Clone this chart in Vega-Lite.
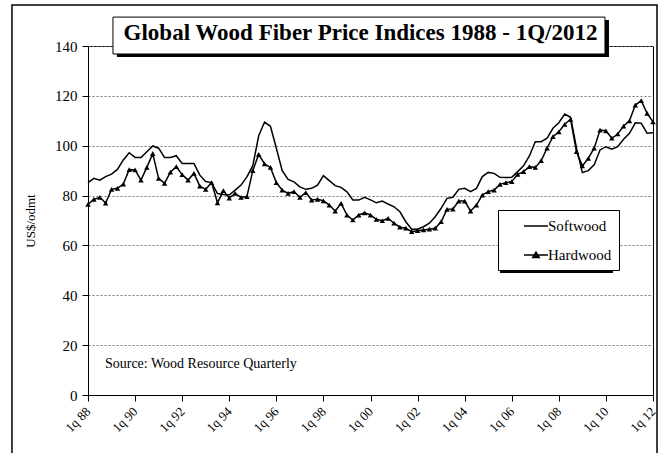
{
  "$schema": "https://vega.github.io/schema/vega-lite/v6.json",
  "width": 565,
  "height": 349,
  "autosize": {"type": "none"},
  "padding": {"left": 88, "top": 46, "right": 6, "bottom": 58},
  "background": "white",
  "title": {"text": "Global Wood Fiber Price Indices 1988 - 1Q/2012", "font": "Liberation Serif", "fontSize": 23, "fontWeight": "bold", "color": "black", "anchor": "middle", "frame": "group", "dx": -10, "dy": 61, "offset": 2, "baseline": "alphabetic"},
  "config": {
    "view": {"stroke": "black", "strokeWidth": 1},
    "font": "Liberation Serif",
    "axis": {"labelFont": "Liberation Serif", "titleFont": "Liberation Serif"},
    "legend": {"labelFont": "Liberation Serif"}
  },
  "datasets": {
    "prices": [
      {"t": 1988, "Softwood": 85.2, "Hardwood": 76.5},
      {"t": 1988.25, "Softwood": 86.9, "Hardwood": 78.5},
      {"t": 1988.5, "Softwood": 86.2, "Hardwood": 79.3},
      {"t": 1988.75, "Softwood": 87.6, "Hardwood": 77.0},
      {"t": 1989, "Softwood": 88.6, "Hardwood": 82.5},
      {"t": 1989.25, "Softwood": 90.5, "Hardwood": 82.9},
      {"t": 1989.5, "Softwood": 94.3, "Hardwood": 84.6},
      {"t": 1989.75, "Softwood": 97.2, "Hardwood": 90.4},
      {"t": 1990, "Softwood": 95.3, "Hardwood": 90.3},
      {"t": 1990.25, "Softwood": 95.3, "Hardwood": 86.2},
      {"t": 1990.5, "Softwood": 97.6, "Hardwood": 91.3},
      {"t": 1990.75, "Softwood": 99.9, "Hardwood": 96.8},
      {"t": 1991, "Softwood": 99.0, "Hardwood": 86.9},
      {"t": 1991.25, "Softwood": 95.3, "Hardwood": 84.9},
      {"t": 1991.5, "Softwood": 95.3, "Hardwood": 89.4},
      {"t": 1991.75, "Softwood": 96.0, "Hardwood": 91.6},
      {"t": 1992, "Softwood": 92.9, "Hardwood": 88.4},
      {"t": 1992.25, "Softwood": 92.9, "Hardwood": 86.2},
      {"t": 1992.5, "Softwood": 92.9, "Hardwood": 88.9},
      {"t": 1992.75, "Softwood": 88.2, "Hardwood": 83.8},
      {"t": 1993, "Softwood": 85.6, "Hardwood": 82.5},
      {"t": 1993.25, "Softwood": 85.2, "Hardwood": 85.2},
      {"t": 1993.5, "Softwood": 80.8, "Hardwood": 77.1},
      {"t": 1993.75, "Softwood": 80.4, "Hardwood": 82.0},
      {"t": 1994, "Softwood": 80.2, "Hardwood": 79.0},
      {"t": 1994.25, "Softwood": 82.2, "Hardwood": 80.9},
      {"t": 1994.5, "Softwood": 84.2, "Hardwood": 79.3},
      {"t": 1994.75, "Softwood": 87.5, "Hardwood": 79.6},
      {"t": 1995, "Softwood": 92.0, "Hardwood": 90.0},
      {"t": 1995.25, "Softwood": 104.0, "Hardwood": 96.5},
      {"t": 1995.5, "Softwood": 109.5, "Hardwood": 92.7},
      {"t": 1995.75, "Softwood": 107.8, "Hardwood": 91.3},
      {"t": 1996, "Softwood": 99.0, "Hardwood": 85.2},
      {"t": 1996.25, "Softwood": 90.0, "Hardwood": 82.2},
      {"t": 1996.5, "Softwood": 86.5, "Hardwood": 80.9},
      {"t": 1996.75, "Softwood": 85.5, "Hardwood": 81.6},
      {"t": 1997, "Softwood": 83.5, "Hardwood": 79.3},
      {"t": 1997.25, "Softwood": 82.5, "Hardwood": 81.2},
      {"t": 1997.5, "Softwood": 82.9, "Hardwood": 78.2},
      {"t": 1997.75, "Softwood": 84.2, "Hardwood": 78.5},
      {"t": 1998, "Softwood": 88.0, "Hardwood": 77.9},
      {"t": 1998.25, "Softwood": 86.0, "Hardwood": 76.2},
      {"t": 1998.5, "Softwood": 84.0, "Hardwood": 73.8},
      {"t": 1998.75, "Softwood": 83.3, "Hardwood": 76.9},
      {"t": 1999, "Softwood": 81.5, "Hardwood": 72.2},
      {"t": 1999.25, "Softwood": 78.2, "Hardwood": 70.2},
      {"t": 1999.5, "Softwood": 78.2, "Hardwood": 72.2},
      {"t": 1999.75, "Softwood": 79.3, "Hardwood": 73.1},
      {"t": 2000, "Softwood": 78.3, "Hardwood": 72.2},
      {"t": 2000.25, "Softwood": 77.1, "Hardwood": 70.5},
      {"t": 2000.5, "Softwood": 77.8, "Hardwood": 69.9},
      {"t": 2000.75, "Softwood": 76.6, "Hardwood": 70.9},
      {"t": 2001, "Softwood": 75.5, "Hardwood": 68.9},
      {"t": 2001.25, "Softwood": 73.5, "Hardwood": 67.3},
      {"t": 2001.5, "Softwood": 69.5, "Hardwood": 66.9},
      {"t": 2001.75, "Softwood": 66.5, "Hardwood": 65.5},
      {"t": 2002, "Softwood": 66.5, "Hardwood": 65.9},
      {"t": 2002.25, "Softwood": 67.5, "Hardwood": 66.2},
      {"t": 2002.5, "Softwood": 68.9, "Hardwood": 66.5},
      {"t": 2002.75, "Softwood": 71.5, "Hardwood": 66.9},
      {"t": 2003, "Softwood": 74.9, "Hardwood": 69.5},
      {"t": 2003.25, "Softwood": 78.9, "Hardwood": 74.5},
      {"t": 2003.5, "Softwood": 79.3, "Hardwood": 74.6},
      {"t": 2003.75, "Softwood": 82.5, "Hardwood": 77.8},
      {"t": 2004, "Softwood": 82.9, "Hardwood": 77.8},
      {"t": 2004.25, "Softwood": 81.6, "Hardwood": 73.8},
      {"t": 2004.5, "Softwood": 82.9, "Hardwood": 76.2},
      {"t": 2004.75, "Softwood": 87.6, "Hardwood": 80.2},
      {"t": 2005, "Softwood": 89.3, "Hardwood": 81.6},
      {"t": 2005.25, "Softwood": 88.9, "Hardwood": 82.2},
      {"t": 2005.5, "Softwood": 87.3, "Hardwood": 84.5},
      {"t": 2005.75, "Softwood": 87.2, "Hardwood": 85.2},
      {"t": 2006, "Softwood": 87.3, "Hardwood": 85.6},
      {"t": 2006.25, "Softwood": 89.6, "Hardwood": 88.5},
      {"t": 2006.5, "Softwood": 91.9, "Hardwood": 89.6},
      {"t": 2006.75, "Softwood": 95.9, "Hardwood": 91.6},
      {"t": 2007, "Softwood": 101.6, "Hardwood": 91.3},
      {"t": 2007.25, "Softwood": 101.6, "Hardwood": 94.0},
      {"t": 2007.5, "Softwood": 103.0, "Hardwood": 99.0},
      {"t": 2007.75, "Softwood": 107.0, "Hardwood": 103.6},
      {"t": 2008, "Softwood": 109.2, "Hardwood": 105.6},
      {"t": 2008.25, "Softwood": 112.7, "Hardwood": 108.6},
      {"t": 2008.5, "Softwood": 111.4, "Hardwood": 110.6},
      {"t": 2008.75, "Softwood": 99.0, "Hardwood": 97.6},
      {"t": 2009, "Softwood": 89.2, "Hardwood": 91.9},
      {"t": 2009.25, "Softwood": 90.0, "Hardwood": 94.9},
      {"t": 2009.5, "Softwood": 92.3, "Hardwood": 99.0},
      {"t": 2009.75, "Softwood": 98.3, "Hardwood": 106.3},
      {"t": 2010, "Softwood": 99.6, "Hardwood": 106.0},
      {"t": 2010.25, "Softwood": 98.6, "Hardwood": 103.0},
      {"t": 2010.5, "Softwood": 99.6, "Hardwood": 104.7},
      {"t": 2010.75, "Softwood": 102.6, "Hardwood": 107.9},
      {"t": 2011, "Softwood": 105.0, "Hardwood": 110.0},
      {"t": 2011.25, "Softwood": 109.2, "Hardwood": 116.3},
      {"t": 2011.5, "Softwood": 109.0, "Hardwood": 118.1},
      {"t": 2011.75, "Softwood": 105.0, "Hardwood": 113.0},
      {"t": 2012, "Softwood": 105.2, "Hardwood": 109.6}
    ]
  },
  "data": {"name": "prices"},
  "transform": [{"fold": ["Softwood", "Hardwood"], "as": ["series", "value"]}],
  "layer": [
    {
      "data": {"values": [{}]},
      "mark": {"type": "rect", "fill": "transparent", "stroke": "black", "strokeWidth": 1.5},
      "encoding": {
        "x": {"datum": 1984.77, "type": "quantitative"},
        "x2": {"datum": 2012.17},
        "y": {"datum": 156.45, "type": "quantitative"},
        "y2": {"datum": -30}
      }
    },
    {
      "data": {"values": [{}]},
      "mark": {"type": "rect", "fill": "black"},
      "encoding": {
        "x": {"datum": 1989.23, "type": "quantitative"},
        "x2": {"datum": 2010.13},
        "y": {"datum": 150.4, "type": "quantitative"},
        "y2": {"datum": 135.6}
      }
    },
    {
      "data": {"values": [{}]},
      "mark": {"type": "rect", "fill": "white", "stroke": "black", "strokeWidth": 1},
      "encoding": {
        "x": {"datum": 1989.06, "type": "quantitative"},
        "x2": {"datum": 2009.96},
        "y": {"datum": 151.6, "type": "quantitative"},
        "y2": {"datum": 136.8}
      }
    },
    {
      "data": {"values": [{}]},
      "mark": {"type": "rect", "fill": "black"},
      "encoding": {
        "x": {"datum": 2005.5, "type": "quantitative"},
        "x2": {"datum": 2010.3},
        "y": {"datum": 73.0, "type": "quantitative"},
        "y2": {"datum": 48.9}
      }
    },
    {
      "mark": {"type": "line", "strokeWidth": 1.5},
      "encoding": {
        "x": {
          "field": "t", "type": "quantitative",
          "scale": {"domain": [1988, 2012], "nice": false, "zero": false},
          "axis": {
            "values": [1988, 1989, 1990, 1991, 1992, 1993, 1994, 1995, 1996, 1997, 1998, 1999, 2000, 2001, 2002, 2003, 2004, 2005, 2006, 2007, 2008, 2009, 2010, 2011, 2012],
            "labelExpr": "datum.value % 2 === 0 ? '1q ' + slice(toString(datum.value), 2) : ''",
            "labelAngle": -45, "labelAlign": "right", "labelBaseline": "middle", "labelDx": -6,
            "labelFont": "Liberation Serif", "labelFontSize": 13, "labelColor": "black",
            "tickColor": "black", "tickSize": 6, "domainColor": "black", "grid": false, "title": null,
            "labelOverlap": false, "labelFlush": false, "labelBound": false, "labelPadding": 8
          }
        },
        "y": {
          "field": "value", "type": "quantitative",
          "scale": {"domain": [0, 140], "nice": false, "zero": true},
          "axis": {
            "values": [0, 20, 40, 60, 80, 100, 120, 140],
            "grid": true, "gridDash": [2, 2], "gridColor": "#777777", "gridWidth": 1,
            "labelFont": "Liberation Serif", "labelFontSize": 15, "labelColor": "black", "labelPadding": 5,
            "tickColor": "black", "tickSize": 6, "domainColor": "black",
            "title": "US$/odmt", "titleFont": "Liberation Serif", "titleFontSize": 13, "titleFontWeight": "normal", "titleColor": "black", "titlePadding": 17
          }
        },
        "stroke": {
          "field": "series", "type": "nominal",
          "scale": {"domain": ["Softwood", "Hardwood"], "range": ["black", "black"]},
          "legend": {
            "orient": "none", "legendX": 410, "legendY": 164, "title": null,
            "padding": 7, "strokeColor": "black", "fillColor": "white",
            "symbolSize": 256, "symbolStrokeWidth": 1.5, "symbolOffset": 22, "labelOffset": 3,
            "labelFont": "Liberation Serif", "labelFontSize": 15, "labelColor": "black", "rowPadding": 12,
            "encode": {
              "symbols": {
                "update": {
                  "shape": {"signal": "datum.value === 'Hardwood' ? 'M-1.5,0H1.5M-0.4,0.3L0,-0.35L0.4,0.3Z' : 'M-1.5,0H1.5'"},
                  "fill": {"value": "black"},
                  "stroke": {"value": "black"}
                }
              }
            }
          }
        }
      }
    },
    {
      "transform": [{"filter": "datum.series === 'Hardwood'"}],
      "mark": {"type": "point", "shape": "triangle-up", "filled": true, "size": 30, "color": "black", "opacity": 1},
      "encoding": {
        "x": {"field": "t", "type": "quantitative"},
        "y": {"field": "value", "type": "quantitative"}
      }
    },
    {
      "data": {"values": [{"label": "Source: Wood Resource Quarterly"}]},
      "mark": {"type": "text", "align": "left", "baseline": "alphabetic", "font": "Liberation Serif", "fontSize": 14, "color": "black"},
      "encoding": {
        "x": {"datum": 1988.72, "type": "quantitative"},
        "y": {"datum": 10.8, "type": "quantitative"},
        "text": {"field": "label"}
      }
    }
  ]
}
